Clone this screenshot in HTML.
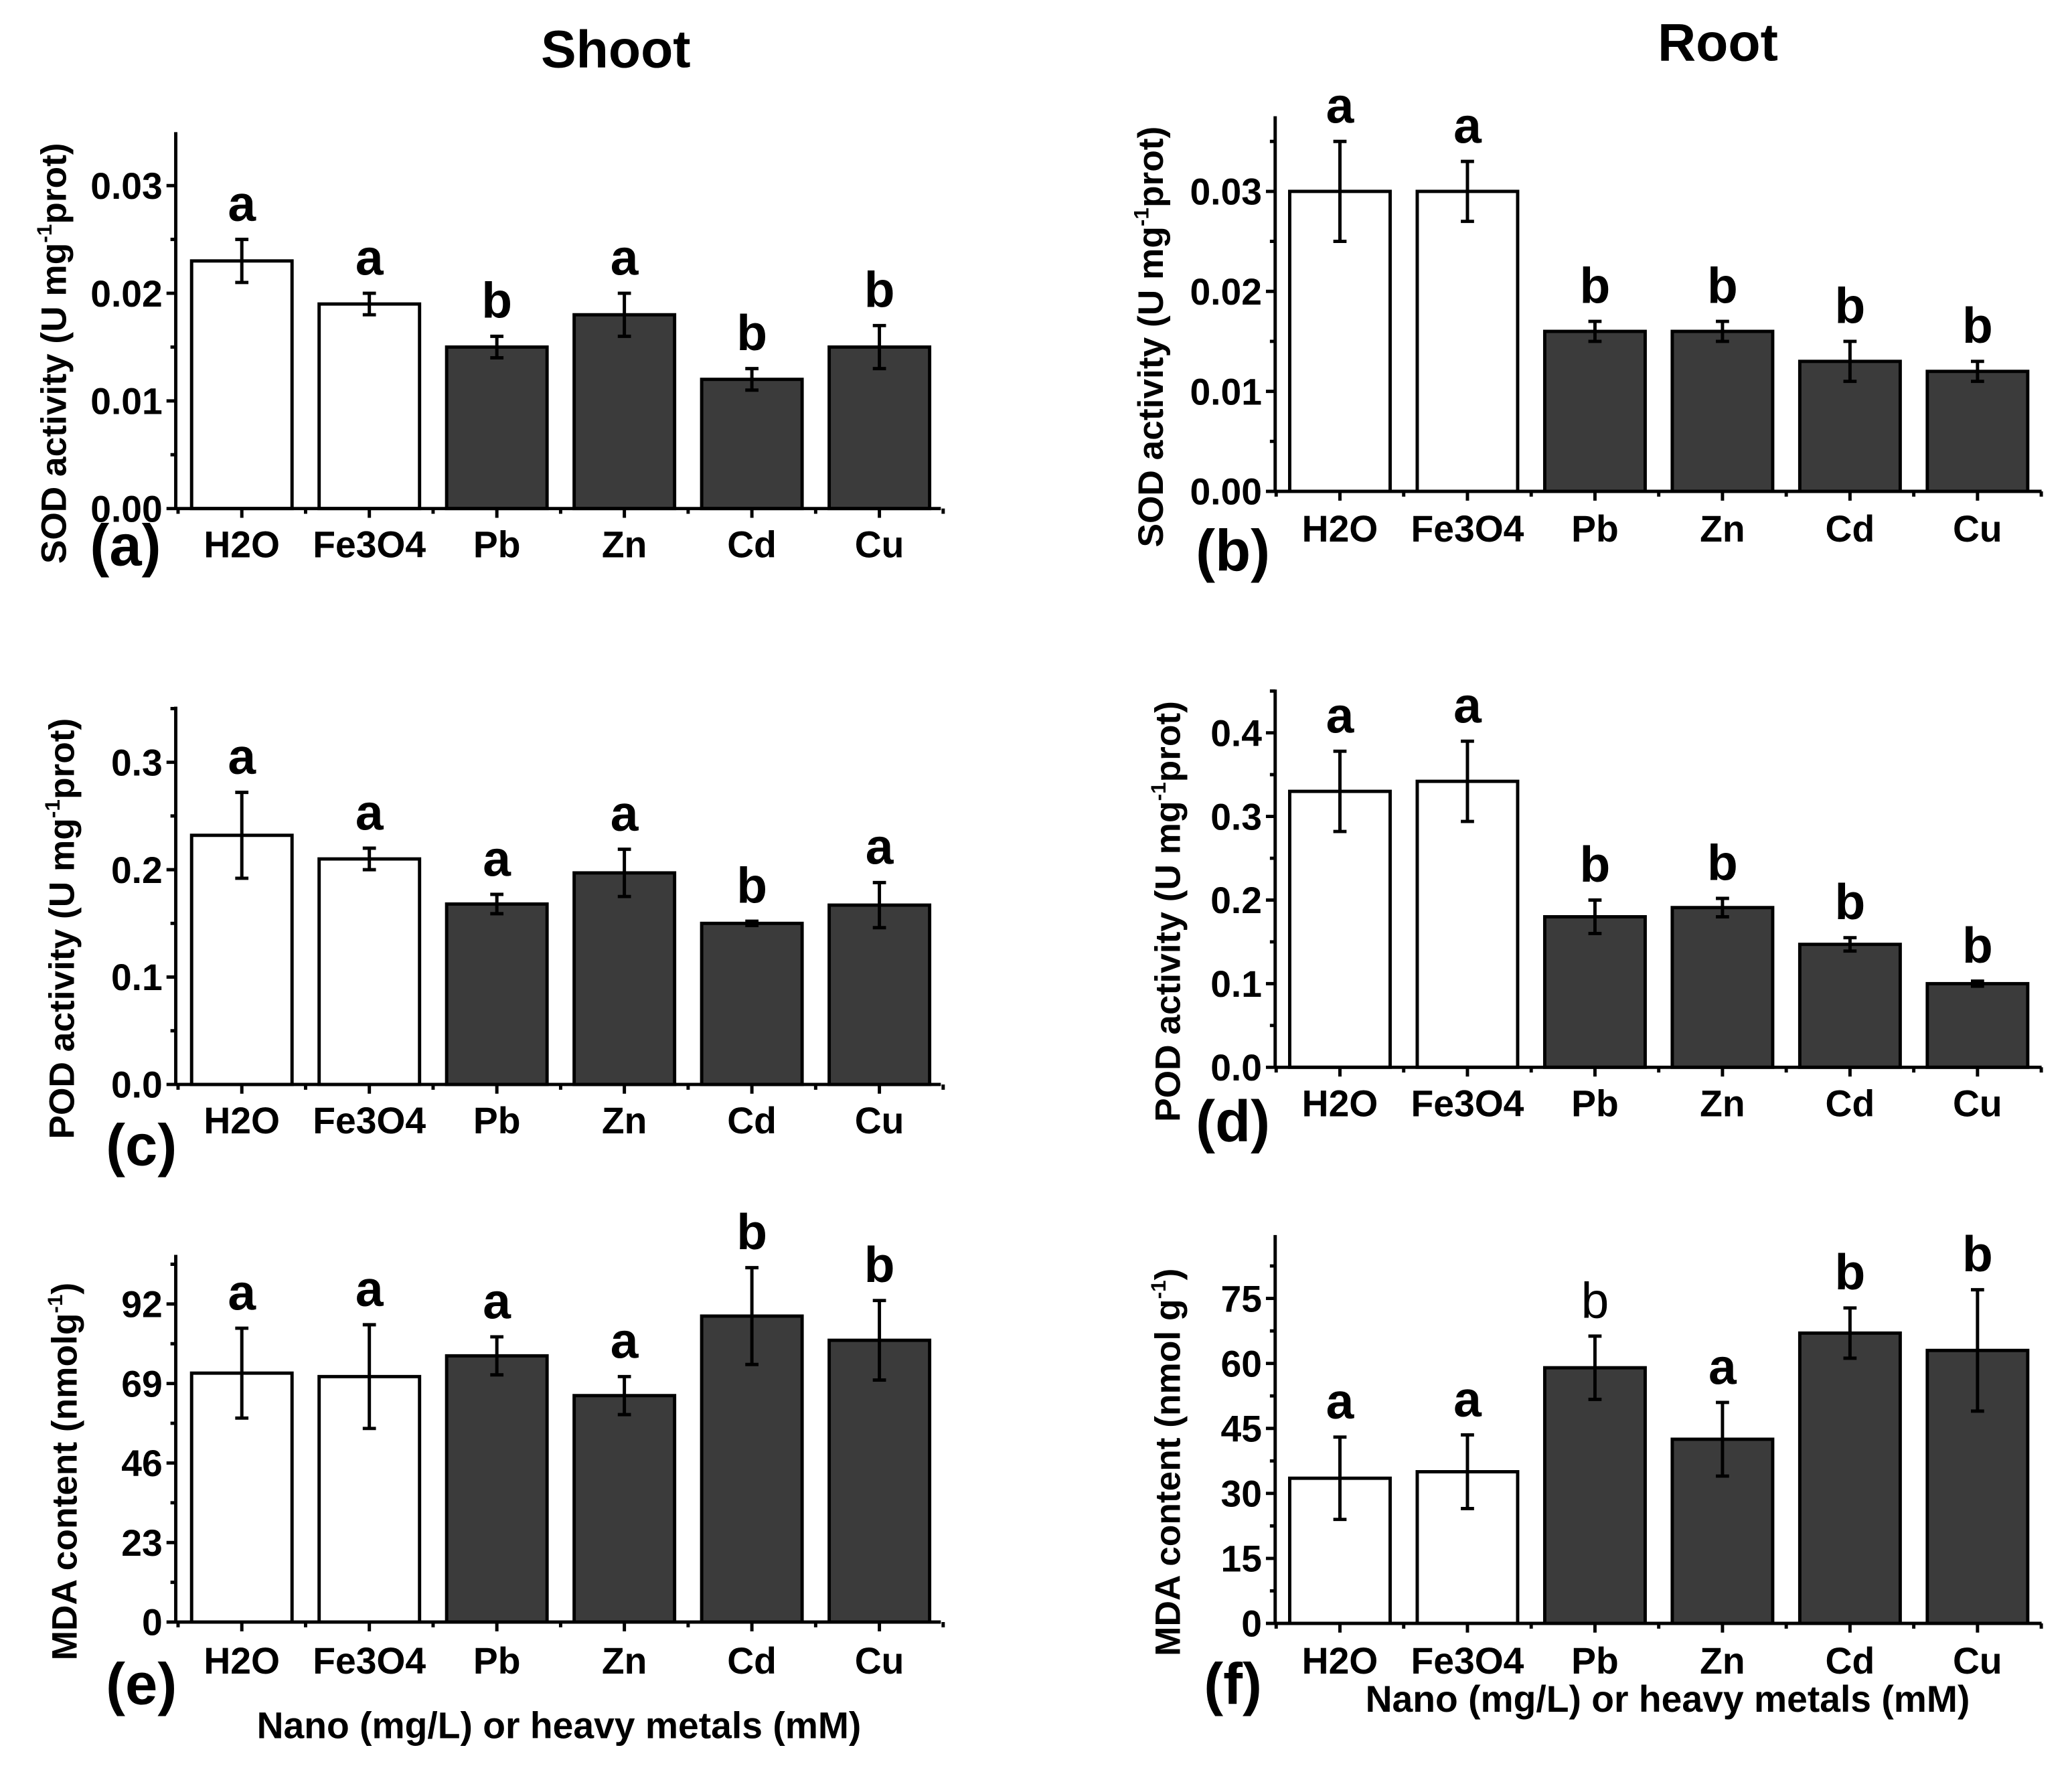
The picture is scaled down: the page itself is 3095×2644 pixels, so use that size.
<!DOCTYPE html>
<html><head><meta charset="utf-8"><title>Shoot / Root antioxidant chart</title>
<style>
html,body{margin:0;padding:0;background:#fff;}
svg{display:block;}
text{font-family:"Liberation Sans",sans-serif;font-weight:bold;fill:#000;}
.n{font-family:"Liberation Sans Narrow","Liberation Sans",sans-serif;}
</style></head>
<body>
<svg id="fig" width="3095" height="2644" viewBox="0 0 1568 1340" preserveAspectRatio="none" xmlns="http://www.w3.org/2000/svg">
<text x="466" y="51" font-size="40" text-anchor="middle">Shoot</text>
<text x="1300" y="46" font-size="40" text-anchor="middle">Root</text>
<text class="n" x="423" y="1316" font-size="28" text-anchor="middle">Nano (mg/L) or heavy metals (mM)</text>
<text class="n" x="1262" y="1296" font-size="28" text-anchor="middle">Nano (mg/L) or heavy metals (mM)</text>
</svg>
<script>
const categories = ["H2O","Fe3O4","Pb","Zn","Cd","Cu"];
const sodShootVals = [0.023,0.019,0.015,0.018,0.012,0.015];
const sodShootErr = [0.002,0.001,0.001,0.002,0.001,0.002];
const sodShootLetters = ["a","a","b","a","b","b"];
const sodRootVals = [0.030,0.030,0.016,0.016,0.013,0.012];
const sodRootErr = [0.005,0.003,0.001,0.001,0.002,0.001];
const sodRootLetters = ["a","a","b","b","b","b"];
const podShootVals = [0.232,0.210,0.168,0.197,0.150,0.167];
const podShootErr = [0.040,0.010,0.009,0.022,0.002,0.021];
const podShootLetters = ["a","a","a","a","b","a"];
const podRootVals = [0.330,0.342,0.180,0.191,0.147,0.100];
const podRootErr = [0.048,0.048,0.020,0.011,0.008,0.003];
const podRootLetters = ["a","a","b","b","b","b"];
const mdaShootVals = [72,71,77,65.5,88.5,81.5];
const mdaShootErr = [13,15,5.5,5.5,14,11.5];
const mdaShootLetters = ["a","a","a","a","b","b"];
const mdaRootVals = [33.5,35,59,42.5,67,63];
const mdaRootErr = [9.5,8.5,7.3,8.5,5.8,14];
const mdaRootLetters = ["a","a","b","a","b","b"];
const sodShootTicks = ["0.00","0.01","0.02","0.03"];
const sodRootTicks = ["0.00","0.01","0.02","0.03"];
const podShootTicks = ["0.0","0.1","0.2","0.3"];
const podRootTicks = ["0.0","0.1","0.2","0.3","0.4"];
const mdaShootTicks = ["0","23","46","69","92"];
const mdaRootTicks = ["0","15","30","45","60","75"];

const NS="http://www.w3.org/2000/svg";
const svg=document.getElementById('fig');
function mk(tag,attrs,parent){const e=document.createElementNS(NS,tag);for(const k in attrs)e.setAttribute(k,attrs[k]);(parent||svg).appendChild(e);return e;}

const panels=[
 {id:'a',ax:133,top:100,bot:385,right:712,step:0.01,px:81.5,ticks:sodShootTicks,vals:sodShootVals,err:sodShootErr,let:sodShootLetters,c0:183,lx:95,ly:428,tly:422,yl:['SOD activity (U mg','-1','prot)'],ylx:50,normalB:-1},
 {id:'b',ax:965,top:88,bot:372,right:1545,step:0.01,px:75.7,ticks:sodRootTicks,vals:sodRootVals,err:sodRootErr,let:sodRootLetters,c0:1014,lx:933,ly:432,tly:410,yl:['SOD activity (U mg','-1','prot)'],ylx:880,normalB:-1},
 {id:'c',ax:133,top:535,bot:821,right:712,step:0.1,px:81.3,ticks:podShootTicks,vals:podShootVals,err:podShootErr,let:podShootLetters,c0:183,lx:107,ly:882,tly:858,yl:['POD activity (U mg','-1','prot)'],ylx:56,normalB:-1},
 {id:'d',ax:965,top:522,bot:808,right:1545,step:0.1,px:63.3,ticks:podRootTicks,vals:podRootVals,err:podRootErr,let:podRootLetters,c0:1014,lx:933,ly:864,tly:845,yl:['POD activity (U mg','-1','prot)'],ylx:893,normalB:-1},
 {id:'e',ax:133,top:950,bot:1228,right:712,step:23,px:60.2,ticks:mdaShootTicks,vals:mdaShootVals,err:mdaShootErr,let:mdaShootLetters,c0:183,lx:107,ly:1290,tly:1267,yl:['MDA content (nmolg','-1',')'],ylx:58,normalB:-1},
 {id:'f',ax:965,top:935,bot:1229,right:1545,step:15,px:49.2,ticks:mdaRootTicks,vals:mdaRootVals,err:mdaRootErr,let:mdaRootLetters,c0:1014,lx:933,ly:1290,tly:1267,yl:['MDA content (nmol g','-1',')'],ylx:893,normalB:2}
];
const spacing=96.5, bw=76;

panels.forEach(p=>{
 const g=mk('g',{});
 
 
 const y=v=>p.bot-v/p.step*p.px;
 const x=i=>p.c0+i*spacing;
 p.vals.forEach((v,i)=>{
  const r=mk('rect',{x:x(i)-bw/2,y:y(v),width:bw,height:p.bot-y(v),fill:i<2?'#fff':'#3b3b3b',stroke:'#000','stroke-width':2.5},g);
  
  
  const e=p.err[i];
  const eb=mk('path',{d:`M${x(i)},${y(v+e)}V${y(v-e)}M${x(i)-5},${y(v+e)}H${x(i)+5}M${x(i)-5},${y(v-e)}H${x(i)+5}`,stroke:'#000','stroke-width':2.5,fill:'none'},g);
  
  
  const t=mk('text',{x:x(i),y:y(v+e)-14,'font-size':38,'text-anchor':'middle',class:'n'},g);
  if(i===p.normalB){t.setAttribute('style','font-weight:normal');}
  t.textContent=p.let[i];
  
  
  const cl=mk('text',{x:x(i),y:p.tly,'font-size':28,'text-anchor':'middle',class:'n'},g);
  cl.textContent=categories[i];
  
  
 });
 let d=`M${p.ax},${p.top}V${p.bot}H${p.right}`;
 const nmaj=p.ticks.length;
 for(let k=0;k<nmaj;k++){const yy=y(k*p.step);d+=`M${p.ax-7},${yy}H${p.ax}`;}
 for(let k=0;k<nmaj+1;k++){const yy=y((k+0.5)*p.step);if(yy>p.top)d+=`M${p.ax-4},${yy}H${p.ax}`;}
 for(let i=0;i<categories.length;i++){d+=`M${x(i)},${p.bot}v7`;d+=`M${x(i)-spacing/2},${p.bot}v4`;}
 d+=`M${x(5)+spacing/2},${p.bot}v4`;
 const axis=mk('path',{d:d,stroke:'#000','stroke-width':2.5,fill:'none'},g);
 
 
 p.ticks.forEach((lab,k)=>{
  const t=mk('text',{x:p.ax-10,y:y(k*p.step)+10,'font-size':28,'text-anchor':'end',class:'n'},g);
  t.textContent=lab;
  
  
 });
 const pl=mk('text',{x:p.lx,y:p.ly,'font-size':44,'text-anchor':'middle',class:'n'},g);
 pl.textContent='('+p.id+')';
 
 
 const cy=(p.top+p.bot)/2+25;
 const yt=mk('text',{x:p.ylx,y:cy,'font-size':27,'text-anchor':'middle',transform:`rotate(-90 ${p.ylx} ${cy})`},g);
 
 
 const s1=mk('tspan',{},yt);s1.textContent=p.yl[0];
 const s2=mk('tspan',{dy:-11,'font-size':16},yt);s2.textContent=p.yl[1];
 const s3=mk('tspan',{dy:11},yt);s3.textContent=p.yl[2];
});
</script>
</body></html>
